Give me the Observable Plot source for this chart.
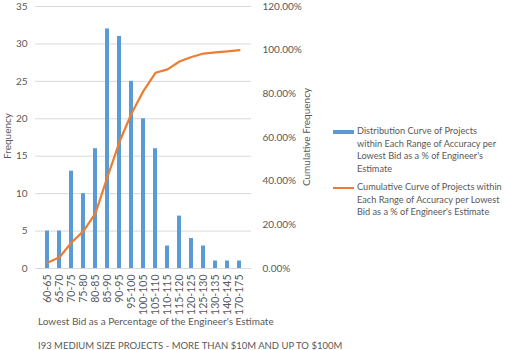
<!DOCTYPE html>
<html>
<head>
<meta charset="utf-8">
<script src="https://cdn.jsdelivr.net/npm/d3@7"></script>
<script src="https://cdn.jsdelivr.net/npm/@observablehq/plot@0.6"></script>
<style>
  html, body { margin: 0; padding: 0; background: #fff; }
  #wrap { position: relative; width: 505px; height: 350px; font-family: Lato, "Open Sans", sans-serif; color: #595959; }
  .abs { position: absolute; white-space: nowrap; }
  .legend { font-size: 9.2px; line-height: 12.6px; }
</style>
</head>
<body>
<div id="wrap"></div>
<script>
const categories = ["60-65","65-70","70-75","75-80","80-85","85-90","90-95","95-100","100-105","105-110","110-115","115-120","120-125","125-130","130-135","140-145","170-175"];
const frequency = [5,5,13,10,16,32,31,25,20,16,3,7,4,3,1,1,1];
const cumulative = [0.0259,0.0518,0.1192,0.1710,0.2539,0.4197,0.5803,0.7098,0.8135,0.8964,0.9119,0.9482,0.9689,0.9845,0.9896,0.9948,1.0];
const leftTicks = [0,5,10,15,20,25,30,35];
const rightTicks = [0,0.2,0.4,0.6,0.8,1.0,1.2];

const FMAX = 35, PMAX = 1.2;
const toLeft = p => p * FMAX / PMAX;

const rows = categories.map((c, i) => ({cat: c, freq: frequency[i], cum: cumulative[i]}));

const chart = Plot.plot({
  width: 505,
  height: 350,
  marginLeft: 35,
  marginRight: 254,
  marginTop: 6,
  marginBottom: 82,
  style: {fontFamily: "Lato, 'Open Sans', sans-serif", fontSize: "10px", color: "#595959", background: "#fff"},
  x: {type: "band", domain: categories, padding: 0.7, align: 0.5},
  y: {domain: [0, FMAX]},
  marks: [
    Plot.ruleY(leftTicks, {stroke: "#d9d9d9", strokeWidth: 1}),
    Plot.barY(rows, {x: "cat", y: "freq", fill: "#5b9bd5"}),
    Plot.line(rows, {x: "cat", y: d => toLeft(d.cum), stroke: "#ed7d31", strokeWidth: 2.2, strokeLinejoin: "round"}),
    Plot.axisY(leftTicks, {anchor: "left", tickSize: 0, tickPadding: 8, label: null, fill: "#595959"}),
    Plot.axisY(rightTicks.map(toLeft), {anchor: "right", tickSize: 0, tickPadding: 11, textAnchor: "start", label: null, fill: "#595959",
      tickFormat: v => (v * PMAX / FMAX * 100).toFixed(2) + "%"}),
    Plot.axisX({tickSize: 0, tickPadding: 6, tickRotate: -90, label: null, fill: "#595959", fontSize: 10.5})
  ]
});

const wrap = document.getElementById("wrap");
wrap.appendChild(chart);
chart.style.position = "absolute";
chart.style.left = "0px";
chart.style.top = "0px";

function addText(html, css, cls) {
  const d = document.createElement("div");
  d.className = "abs" + (cls ? " " + cls : "");
  d.innerHTML = html;
  Object.assign(d.style, css);
  wrap.appendChild(d);
  return d;
}

addText("Lowest Bid as a Percentage of the Engineer's Estimate", {left: "38px", top: "315px", fontSize: "10px"});
addText("I93 MEDIUM SIZE PROJECTS - MORE THAN $10M AND UP TO $100M", {left: "38px", top: "340px", fontSize: "9.5px"});
addText("Frequency", {left: "7px", top: "136px", fontSize: "10px", transform: "translate(-50%,-50%) rotate(-90deg)"});
addText("Cumulative Frequency", {left: "306px", top: "137px", fontSize: "10px", transform: "translate(-50%,-50%) rotate(-90deg)"});

// Legend
addText("", {left: "333px", top: "130px", width: "21px", height: "4px", background: "#5b9bd5"});
addText("Distribution Curve of Projects<br>within Each Range of Accuracy per<br>Lowest Bid as a % of Engineer's<br>Estimate", {left: "357px", top: "125px"}, "legend");
addText("", {left: "333px", top: "187px", width: "21px", height: "2px", background: "#ed7d31"});
addText("Cumulative Curve of Projects within<br>Each Range of Accuracy per Lowest<br>Bid as a % of Engineer's Estimate", {left: "357px", top: "181px"}, "legend");
</script>
</body>
</html>
